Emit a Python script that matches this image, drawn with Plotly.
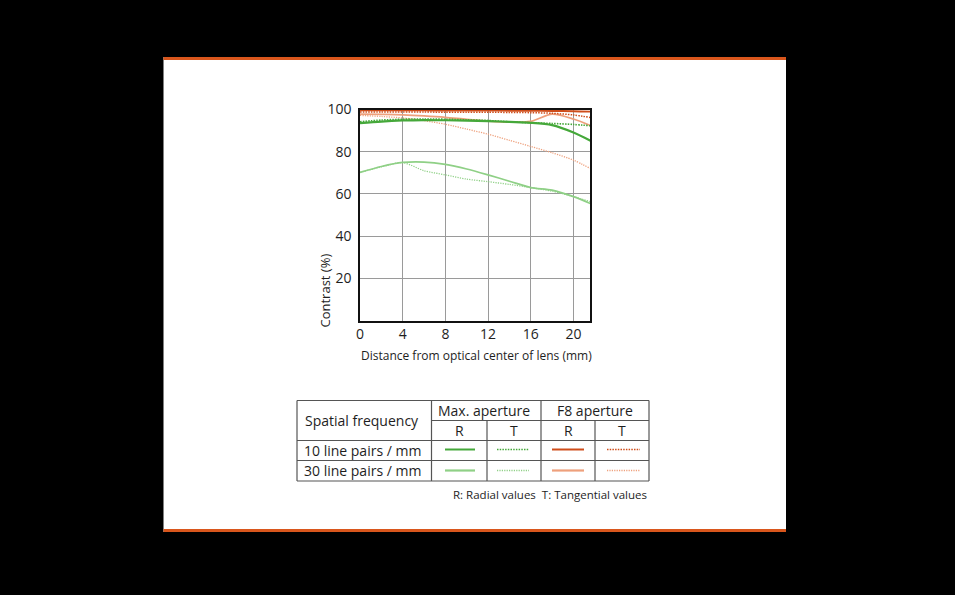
import plotly.graph_objects as go

W, H = 955, 595

# Data (distance from optical center, mm)
x_pos = [0, 2, 4, 6, 8, 10, 12, 14, 16, 18, 20, 21.6]

max_10_R = [93.5, 94.3, 94.8, 95.0, 94.9, 94.7, 94.5, 94.1, 93.7, 92.6, 89.1, 85.2]
max_10_T = [94.2, 95.0, 95.4, 95.5, 95.4, 95.1, 94.8, 94.2, 93.7, 93.4, 92.9, 92.3]
max_30_R = [70.2, 73.0, 74.9, 75.1, 74.0, 71.8, 69.0, 66.0, 63.0, 61.8, 58.7, 55.4]
max_30_T = [70.2, 72.8, 74.8, 71.0, 69.0, 67.0, 65.8, 64.5, 63.0, 61.3, 58.7, 56.3]
f8_10_R = [99.6, 99.6, 99.6, 99.6, 99.5, 99.5, 99.5, 99.4, 99.4, 99.3, 99.2, 99.0]
f8_10_T = [98.8, 98.8, 98.8, 98.8, 98.7, 98.7, 98.7, 98.6, 98.5, 98.2, 97.4, 96.2]
f8_30_R = [97.8, 97.7, 97.5, 97.0, 96.3, 95.3, 94.5, 94.0, 94.4, 97.8, 95.5, 92.4]
f8_30_T = [97.2, 96.7, 96.0, 94.7, 93.0, 90.7, 88.3, 85.4, 82.5, 79.5, 76.0, 72.0]

x_ticks = [0, 4, 8, 12, 16, 20]
y_ticks = [20, 40, 60, 80, 100]

row_labels = ["10 line pairs / mm", "30 line pairs / mm"]
group_labels = ["Max. aperture", "F8 aperture"]
col_labels = ["R", "T", "R", "T"]

GREEN_D = "#45a83a"
GREEN_L = "#8fd086"
ORANGE_D = "#cf4d1a"
ORANGE_L = "#eea07c"
FONT = "Open Sans"
TXT = "#1e1e1e"
DOT10 = "1.5px,1.2px"
DOT30 = "1.2px,1.2px"


def px(x):
    return x / W


def py(y):
    return 1 - y / H


fig = go.Figure()

series = [
    (max_30_R, GREEN_L, 1.7, "solid", "Max 30 R"),
    (max_30_T, GREEN_L, 1.3, DOT30, "Max 30 T"),
    (f8_30_T, ORANGE_L, 1.3, DOT30, "F8 30 T"),
    (f8_30_R, ORANGE_L, 1.7, "solid", "F8 30 R"),
    (f8_10_T, ORANGE_D, 1.5, DOT10, "F8 10 T"),
    (f8_10_R, ORANGE_D, 1.9, "solid", "F8 10 R"),
    (max_10_T, GREEN_D, 1.6, DOT10, "Max 10 T"),
    (max_10_R, GREEN_D, 2.2, "solid", "Max 10 R"),
]
for ys, col, w, dash, name in series:
    fig.add_trace(go.Scatter(
        x=x_pos, y=ys, mode="lines", name=name,
        line=dict(color=col, width=w, dash=dash, shape="spline", smoothing=0.8),
        showlegend=False, hoverinfo="skip"))

fig.update_layout(
    width=W, height=H, autosize=False,
    margin=dict(l=0, r=0, t=0, b=0, pad=0, autoexpand=False),
    paper_bgcolor="black", plot_bgcolor="white",
    font=dict(family=FONT, color=TXT),
    xaxis=dict(domain=[px(360), px(590)], range=[0, 21.55], automargin=False,
               tickvals=x_ticks, ticktext=[str(v) for v in x_ticks],
               showgrid=True, gridcolor="#9a9a9a", gridwidth=1,
               showline=True, linecolor="#111", linewidth=1.6, mirror=True,
               zeroline=False, ticks="", tickfont=dict(size=14, color=TXT),
               fixedrange=True),
    yaxis=dict(domain=[py(320.5), py(109.5)], range=[0, 100], automargin=False,
               tickvals=y_ticks, ticktext=[str(v) for v in y_ticks],
               showgrid=True, gridcolor="#9a9a9a", gridwidth=1,
               showline=True, linecolor="#111", linewidth=1.6, mirror=True,
               zeroline=False, ticks="", tickfont=dict(size=14, color=TXT),
               ticklabelstandoff=4, fixedrange=True),
)

shapes = []
# white panel and orange bars
shapes.append(dict(type="rect", xref="paper", yref="paper", x0=px(163.5), x1=px(786),
                   y0=py(532), y1=py(57), fillcolor="white", line=dict(width=0), layer="below"))
shapes.append(dict(type="rect", xref="paper", yref="paper", x0=px(163.5), x1=px(786),
                   y0=py(60), y1=py(57), fillcolor="#d9561c", line=dict(width=0), layer="below"))
shapes.append(dict(type="rect", xref="paper", yref="paper", x0=px(163.5), x1=px(786),
                   y0=py(532), y1=py(529), fillcolor="#d9561c", line=dict(width=0), layer="below"))

# table
TB = "#555555"
def hline(x0, x1, y):
    shapes.append(dict(type="line", xref="paper", yref="paper", x0=px(x0), x1=px(x1),
                       y0=py(y), y1=py(y), line=dict(color=TB, width=1.2)))

def vline(x, y0, y1):
    shapes.append(dict(type="line", xref="paper", yref="paper", x0=px(x), x1=px(x),
                       y0=py(y0), y1=py(y1), line=dict(color=TB, width=1.2)))

hline(297, 649, 400.5)
hline(431.5, 649, 420.5)
hline(297, 649, 440.5)
hline(297, 649, 460.5)
hline(297, 649, 481)
vline(297, 400.5, 481)
vline(431.5, 400.5, 481)
vline(487, 420.5, 481)
vline(541, 400.5, 481)
vline(595, 420.5, 481)
vline(649, 400.5, 481)

# legend samples
sample_cols = [(445, 475), (497, 529), (552, 584), (607, 640)]
styles = [
    [(GREEN_D, 2.0, "solid"), (GREEN_D, 1.3, DOT10), (ORANGE_D, 2.0, "solid"), (ORANGE_D, 1.3, DOT10)],
    [(GREEN_L, 2.2, "solid"), (GREEN_L, 1.3, DOT30), (ORANGE_L, 2.2, "solid"), (ORANGE_L, 1.3, DOT30)],
]
for ri, yy in enumerate([449.5, 470.5]):
    for ci, (x0, x1) in enumerate(sample_cols):
        c, w, d = styles[ri][ci]
        shapes.append(dict(type="line", xref="paper", yref="paper", x0=px(x0), x1=px(x1),
                           y0=py(yy), y1=py(yy), line=dict(color=c, width=w, dash=d)))

fig.update_layout(shapes=shapes)

ann = []
def text(t, x, y, size, xanchor="center", angle=0):
    ann.append(dict(text=t, x=px(x), y=py(y), xref="paper", yref="paper",
                    xanchor=xanchor, yanchor="middle", showarrow=False,
                    textangle=angle, font=dict(size=size, color=TXT, family=FONT)))

text("Distance from optical center of lens (mm)", 476.5, 355.5, 12)
text("Contrast (%)", 324.5, 291, 13, angle=-90)
text("Spatial frequency", 302.5, 420.5, 14, xanchor="left")
text(row_labels[0], 301.5, 450.5, 14, xanchor="left")
text(row_labels[1], 301.5, 470.5, 14, xanchor="left")
text(group_labels[0], 484, 410.5, 14)
text(group_labels[1], 595, 410.5, 14)
for cx, lab in zip([459, 514, 568, 622], col_labels):
    text(lab, cx, 430.5, 14)
text("R: Radial values  T: Tangential values", 649, 494.5, 11.5, xanchor="right")

fig.update_layout(annotations=ann)

fig.write_html(
    "out.html",
    config={"displayModeBar": False},
    post_script="document.body.style.margin='0';document.body.style.background='black';"
                "document.documentElement.style.overflow='hidden';",
)
